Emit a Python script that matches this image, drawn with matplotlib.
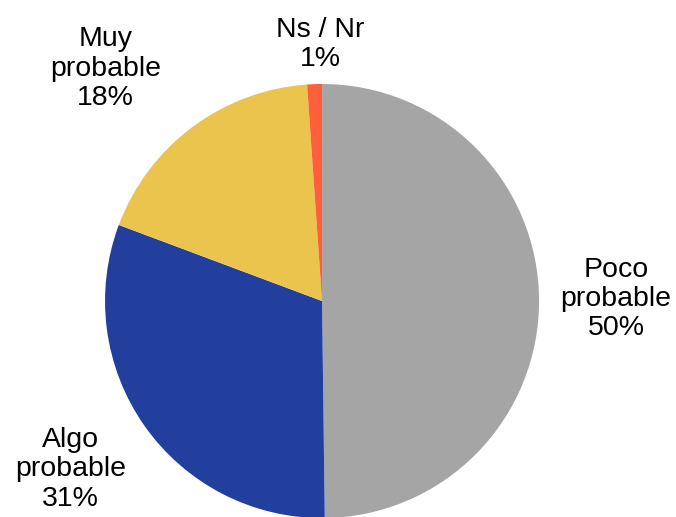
import matplotlib
matplotlib.use("Agg")
import matplotlib.pyplot as plt

categories = ["Poco\nprobable", "Algo\nprobable", "Muy\nprobable", "Ns / Nr"]
values = [49.8, 30.9, 18.2, 1.1]
pct_labels = ["50%", "31%", "18%", "1%"]
colors = ["#A5A5A5", "#233F9E", "#EBC44D", "#FF5F3A"]

# label anchor positions in data units (pie radius = 1)
label_pos = [(1.355, 0.009), (-1.159, -0.776), (-0.998, 1.071), (-0.009, 1.182)]

plt.rcParams['font.family'] = ['Liberation Sans', 'DejaVu Sans']

fig = plt.figure(figsize=(6.76, 5.17), dpi=100)
ax = fig.add_axes([0, 0, 1, 1])
ax.pie(values, colors=colors, startangle=90, counterclock=False, radius=1,
       center=(0, 0), wedgeprops=dict(linewidth=0))
ax.set_xlim(-1.484, 1.631)
ax.set_ylim(-0.995, 1.387)
ax.set_aspect('auto')
ax.axis('off')

for cat, pct, (x, y) in zip(categories, pct_labels, label_pos):
    ax.text(x, y, f"{cat}\n{pct}", ha='center', va='center', fontsize=20.5,
            linespacing=1.17, color='black')

fig.savefig("out.png", dpi=100)
